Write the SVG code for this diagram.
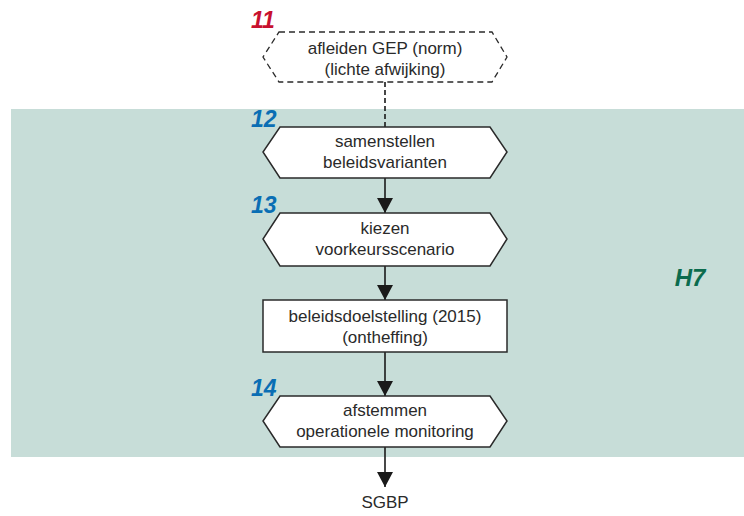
<svg xmlns="http://www.w3.org/2000/svg" width="744" height="516" viewBox="0 0 744 516">
  <style>
    .box { fill: #ffffff; stroke: #2a2a2a; stroke-width: 1.5; }
    .dashed { fill: #ffffff; stroke: #2a2a2a; stroke-width: 1.3; stroke-dasharray: 6 4; }
    .lbl { font-family: "Liberation Sans", Arial, sans-serif; font-size: 17px; fill: #2a2a2a; text-anchor: middle; }
    .num { font-family: "Liberation Sans", Arial, sans-serif; font-size: 23px; font-weight: bold; font-style: italic; }
    .edge { stroke: #1a1a1a; stroke-width: 1.6; fill: none; }
  </style>
  <defs>
    <marker id="arrow" markerWidth="16" markerHeight="16" refX="15" refY="8" orient="auto" markerUnits="userSpaceOnUse">
      <path d="M0,0 L15,8 L0,16 Z" fill="#1a1a1a"/>
    </marker>
  </defs>

  <rect width="744" height="516" fill="#ffffff"/>
  <!-- chapter band -->
  <rect x="11" y="109" width="733" height="348" fill="#c7ddd8"/>
  <text x="690" y="286" font-family="Liberation Sans, Arial, sans-serif" font-size="24" font-weight="bold" font-style="italic" fill="#0b6b4d" text-anchor="middle">H7</text>

  <g id="connectors">
    <line class="edge" x1="385" y1="82" x2="385" y2="127" stroke-dasharray="5 3" stroke-width="1.3"/>
    <line class="edge" x1="385" y1="178" x2="385" y2="213" marker-end="url(#arrow)"/>
    <line class="edge" x1="385" y1="266" x2="385" y2="300" marker-end="url(#arrow)"/>
    <line class="edge" x1="385" y1="352" x2="385" y2="396" marker-end="url(#arrow)"/>
    <line class="edge" x1="385" y1="447" x2="385" y2="487" marker-end="url(#arrow)"/>
  </g>

  <g id="node11">
    <polygon class="dashed" points="279,32 492,32 507,57 492,82 279,82 263,57"/>
    <text class="lbl" x="385" y="54">afleiden GEP (norm)</text>
    <text class="lbl" x="385" y="75">(lichte afwijking)</text>
    <text class="num" x="251" y="28" fill="#c8102e">11</text>
  </g>

  <g id="node12">
    <polygon class="box" points="280,127 490,127 507,152 490,178 280,178 263,152"/>
    <text class="lbl" x="385" y="147">samenstellen</text>
    <text class="lbl" x="385" y="168">beleidsvarianten</text>
    <text class="num" x="251" y="127" fill="#0a6eb4">12</text>
  </g>

  <g id="node13">
    <polygon class="box" points="280,213 490,213 507,239 490,266 280,266 263,239"/>
    <text class="lbl" x="385" y="234">kiezen</text>
    <text class="lbl" x="385" y="255">voorkeursscenario</text>
    <text class="num" x="251" y="213" fill="#0a6eb4">13</text>
  </g>

  <g id="target">
    <rect class="box" x="263" y="300" width="244" height="52"/>
    <text class="lbl" x="385" y="322">beleidsdoelstelling (2015)</text>
    <text class="lbl" x="385" y="343">(ontheffing)</text>
  </g>

  <g id="node14">
    <polygon class="box" points="280,396 490,396 507,421 490,447 280,447 263,421"/>
    <text class="lbl" x="385" y="416">afstemmen</text>
    <text class="lbl" x="385" y="437">operationele monitoring</text>
    <text class="num" x="251" y="396" fill="#0a6eb4">14</text>
  </g>

  <g id="sgbp">
    <text class="lbl" x="385" y="508">SGBP</text>
  </g>
</svg>
